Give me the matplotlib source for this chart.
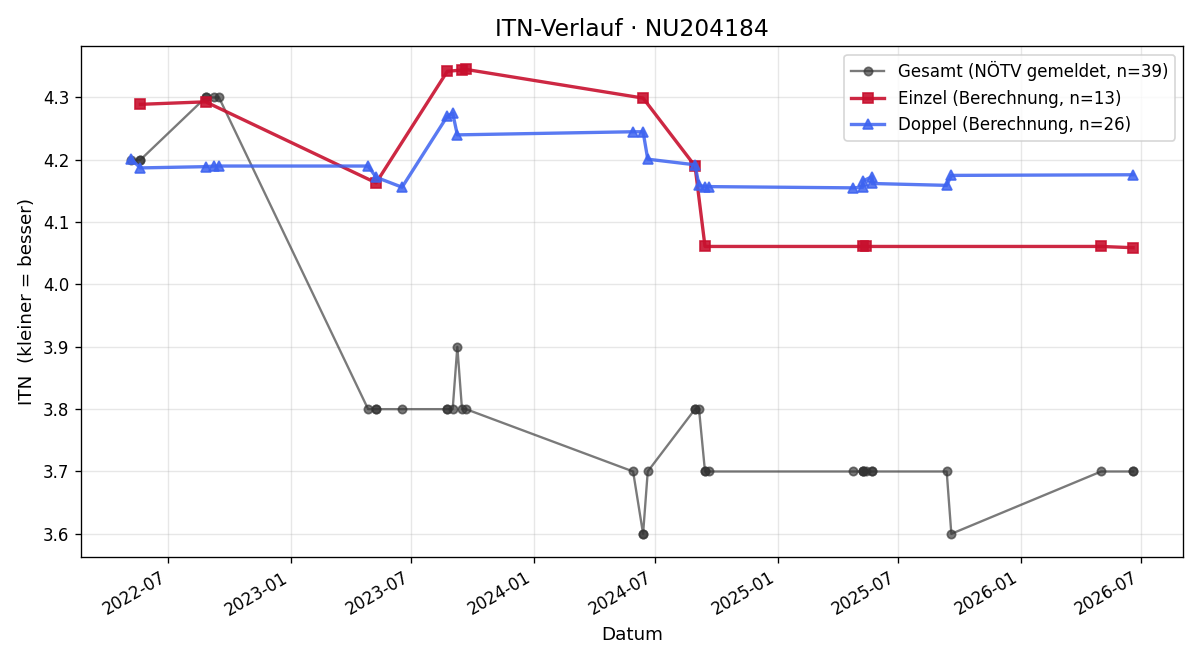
import numpy as np
import pandas as pd
import matplotlib
matplotlib.use("Agg")
import matplotlib.pyplot as plt
import matplotlib.dates as mdates

# Gesamt (NÖTV gemeldet) - one point per match
gesamt_dates = ["2022-05-06", "2022-05-20", "2022-05-20", "2022-08-26", "2022-08-26",
                "2022-09-08", "2022-09-15", "2023-04-27", "2023-05-09", "2023-05-09",
                "2023-06-17", "2023-08-24", "2023-08-24", "2023-09-01", "2023-09-08",
                "2023-09-15", "2023-09-21", "2024-05-29", "2024-06-13", "2024-06-13",
                "2024-06-20", "2024-08-30", "2024-08-30", "2024-09-05", "2024-09-14",
                "2024-09-14", "2024-09-20", "2025-04-25", "2025-05-09", "2025-05-09",
                "2025-05-09", "2025-05-14", "2025-05-23", "2025-05-23", "2025-09-12",
                "2025-09-19", "2026-05-02", "2026-06-19", "2026-06-19"]
gesamt_itn = [4.2, 4.2, 4.2, 4.3, 4.3,
              4.3, 4.3, 3.8, 3.8, 3.8,
              3.8, 3.8, 3.8, 3.8, 3.9,
              3.8, 3.8, 3.7, 3.6, 3.6,
              3.7, 3.8, 3.8, 3.8, 3.7,
              3.7, 3.7, 3.7, 3.7, 3.7,
              3.7, 3.7, 3.7, 3.7, 3.7,
              3.6, 3.7, 3.7, 3.7]

# Einzel (Berechnung)
einzel_dates = ["2022-05-20", "2022-08-26", "2023-05-09", "2023-08-24", "2023-09-15",
                "2023-09-21", "2024-06-13", "2024-08-30", "2024-09-14", "2025-05-09",
                "2025-05-14", "2026-05-02", "2026-06-19"]
einzel_itn = [4.289, 4.293, 4.163, 4.342, 4.344,
              4.345, 4.299, 4.190, 4.061, 4.061,
              4.061, 4.061, 4.059]

# Doppel (Berechnung)
doppel_dates = ["2022-05-06", "2022-05-20", "2022-08-26", "2022-09-08", "2022-09-15",
                "2023-04-27", "2023-05-09", "2023-06-17", "2023-08-24", "2023-09-01",
                "2023-09-08", "2024-05-29", "2024-06-13", "2024-06-20", "2024-08-30",
                "2024-09-05", "2024-09-14", "2024-09-20", "2025-04-25", "2025-05-09",
                "2025-05-09", "2025-05-23", "2025-05-23", "2025-09-12", "2025-09-19",
                "2026-06-19"]
doppel_itn = [4.201, 4.187, 4.189, 4.190, 4.190,
              4.190, 4.172, 4.156, 4.270, 4.275,
              4.240, 4.245, 4.245, 4.201, 4.192,
              4.159, 4.157, 4.157, 4.155, 4.156,
              4.166, 4.173, 4.162, 4.159, 4.175,
              4.176]

fig, ax = plt.subplots(figsize=(10, 5.5), dpi=120)

ax.plot(pd.to_datetime(gesamt_dates), gesamt_itn, "-o", color="#333333", alpha=0.65,
        lw=1.4, ms=5, label="Gesamt (NÖTV gemeldet, n=%d)" % len(gesamt_itn))
ax.plot(pd.to_datetime(einzel_dates), einzel_itn, "-s", color="#c8102e", alpha=0.9,
        lw=2, ms=6, label="Einzel (Berechnung, n=%d)" % len(einzel_itn))
ax.plot(pd.to_datetime(doppel_dates), doppel_itn, "-^", color="#3d63f0", alpha=0.85,
        lw=2, ms=6, label="Doppel (Berechnung, n=%d)" % len(doppel_itn))

ax.set_title("ITN-Verlauf · NU204184", fontsize=14)
ax.set_xlabel("Datum", fontsize=11)
ax.set_ylabel("ITN  (kleiner = besser)", fontsize=11)
ax.xaxis.set_major_locator(mdates.MonthLocator(bymonth=[1, 7]))
ax.xaxis.set_major_formatter(mdates.DateFormatter("%Y-%m"))
ax.grid(True, alpha=0.3)
ax.legend(loc="upper right")
fig.autofmt_xdate()
fig.subplots_adjust(left=0.0675, right=0.986, top=0.930, bottom=0.156)
plt.savefig("out.png")
